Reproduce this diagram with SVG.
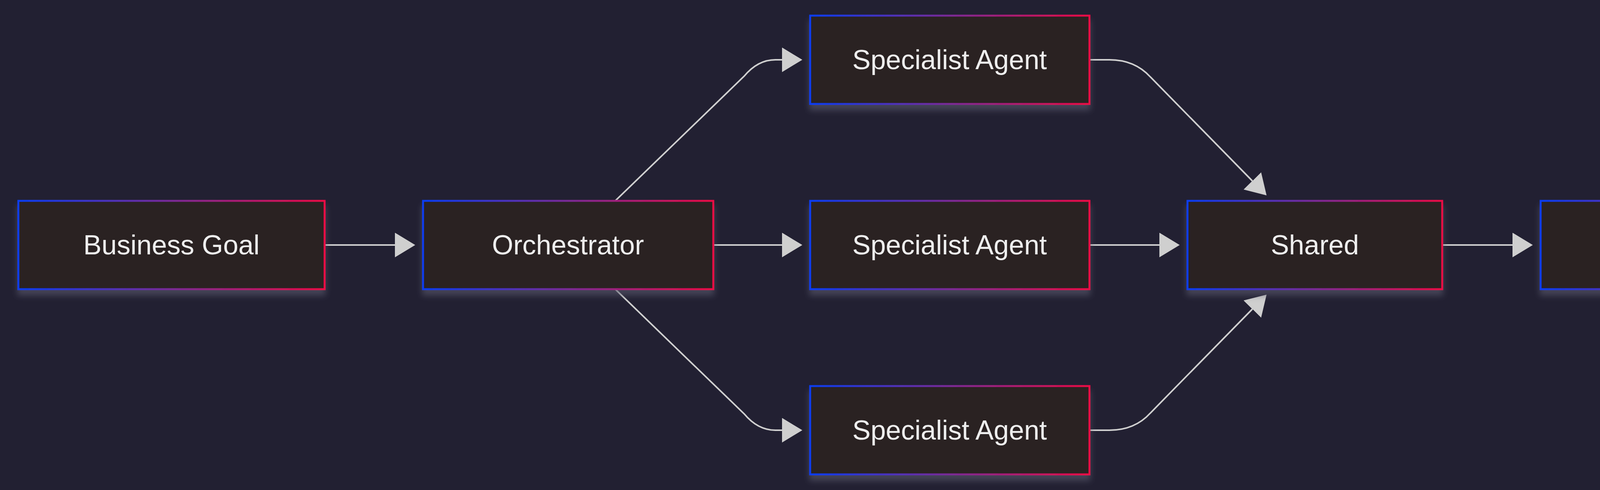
<svg xmlns="http://www.w3.org/2000/svg" width="5716" height="1254" viewBox="0 0 5716 1254">
<defs>
<linearGradient id="g" x1="0" y1="0" x2="1" y2="0"><stop offset="0" stop-color="#0a3cf0"/><stop offset="0.5" stop-color="#7a2a96"/><stop offset="1" stop-color="#ea0a45"/></linearGradient>
<filter id="sh" x="-10%" y="-10%" width="120%" height="150%"><feDropShadow dx="0" dy="14" stdDeviation="8" flood-color="#5a5a6e" flood-opacity="0.6"/></filter>
<marker id="ah" markerUnits="userSpaceOnUse" markerWidth="54" markerHeight="64" refX="0" refY="31.5" orient="auto"><path d="M0,0 L52,31.5 L0,63 z" fill="#cfcfcf"/></marker>
<style>
.n rect{fill:#2c2022;stroke:url(#g);stroke-width:5;filter:url(#sh)}
.n text{fill:#eeeeee;font-family:"Liberation Sans",Arial,sans-serif;font-size:70px;text-anchor:middle;dominant-baseline:central}
#edges path{fill:none;stroke:#cfcfcf;stroke-width:4;marker-end:url(#ah)}
</style>
</defs>
<rect width="5716" height="1254" fill="#222032"/>
<g id="edges">
<path d="M831,627 L1011,627"/>
<path d="M1575,514 L1905,195 Q1940,153 1985,153 L2002,153"/>
<path d="M1826,627 L2002,627"/>
<path d="M1575,740 L1905,1059 Q1940,1101 1985,1101 L2002,1101"/>
<path d="M2789,153 L2840,153 Q2905,153 2945,197 L3206,463"/>
<path d="M2789,627 L2968,627"/>
<path d="M2789,1101 L2840,1101 Q2905,1101 2945,1057 L3206,791"/>
<path d="M3692,627 L3872,627"/>
<path d="M4593,627 L4772,627"/>
</g>
<g id="goal" class="n"><rect x="47" y="514" width="784" height="226"/><text x="439" y="627">Business Goal</text></g>
<g id="orch" class="n"><rect x="1083" y="514" width="743" height="226"/><text x="1454" y="627">Orchestrator</text></g>
<g id="sa1" class="n"><rect x="2074" y="40" width="715" height="226"/><text x="2431" y="153">Specialist Agent</text></g>
<g id="sa2" class="n"><rect x="2074" y="514" width="715" height="226"/><text x="2431" y="627">Specialist Agent</text></g>
<g id="sa3" class="n"><rect x="2074" y="988" width="715" height="226"/><text x="2431" y="1101">Specialist Agent</text></g>
<g id="shared" class="n"><rect x="3040" y="514" width="652" height="226"/><text x="3366" y="627">Shared</text></g>
<g id="eval" class="n"><rect x="3944" y="514" width="649" height="226"/><text x="4268" y="627">Evaluator</text></g>
<g id="final" class="n"><rect x="4844" y="514" width="824" height="226"/><text x="5256" y="627">Final Business</text></g>
</svg>
